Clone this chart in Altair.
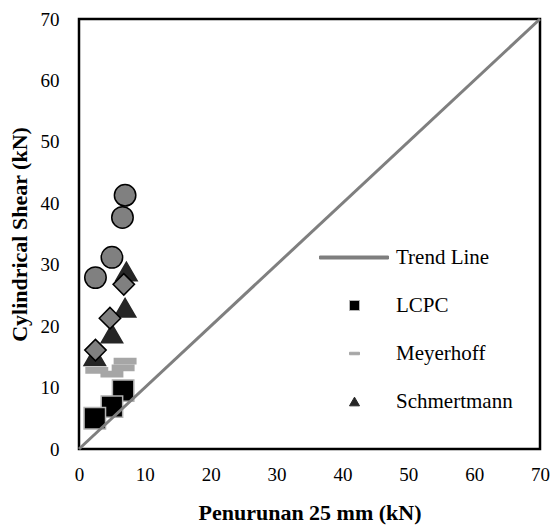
import altair as alt
import pandas as pd

# ---- data ----
lcpc_x = [6.7, 5.0, 2.4]
lcpc_y = [9.5, 6.9, 5.0]
meyer_x = [7.0, 6.7, 2.7, 5.0]
meyer_y = [14.3, 13.2, 12.8, 12.2]
circle_x = [7.0, 6.6, 5.0, 2.5]
circle_y = [41.3, 37.7, 31.2, 27.9]
schmert_x = [7.2, 7.0, 5.0, 2.4]
schmert_y = [28.9, 23.0, 18.8, 15.1]
diamond_x = [6.8, 4.7, 2.5]
diamond_y = [26.8, 21.3, 16.1]
trend_x = [0, 70]
trend_y = [0, 70]
tick_values = [0, 10, 20, 30, 40, 50, 60, 70]

series_names = ["Trend Line", "LCPC", "Meyerhoff", "Schmertmann", "Series 5", "Series 6"]
legend_names = ["Trend Line", "LCPC", "Meyerhoff", "Schmertmann"]

rows = []
for name, xs, ys in [
    ("Meyerhoff", meyer_x, meyer_y),
    ("LCPC", lcpc_x, lcpc_y),
    ("Series 5", circle_x, circle_y),
    ("Schmertmann", schmert_x, schmert_y),
    ("Series 6", diamond_x, diamond_y),
]:
    for xv, yv in zip(xs, ys):
        rows.append({"x": xv, "y": yv, "series": name})
points = pd.DataFrame(rows)
trend = pd.DataFrame({"x": trend_x, "y": trend_y})

shapes = [
    "M-7,-0.3H6.8V0.3H-7Z",
    "square",
    "M-1,-0.25H1V0.25H-1Z",
    "triangle-up",
    "circle",
    "diamond",
]
fills = ["#7f7f7f", "#000000", "#a6a6a6", "#262626", "#808080", "#808080"]
strokes = ["#7f7f7f", "#b3b3b3", "#a6a6a6", "#262626", "#000000", "#000000"]

FONT = "Liberation Serif, Times New Roman, Times, serif"

leg = alt.Legend(
    values=legend_names,
    title=None,
    orient="none",
    legendX=265,
    legendY=228,
    labelOffset=31,
    rowPadding=26,
    symbolSize=100,
    symbolStrokeWidth=1,
    labelFont=FONT,
    labelFontSize=21,
    labelColor="#000000",
    padding=0,
)

xscale = alt.Scale(domain=[0, 70], nice=False)
yscale = alt.Scale(domain=[0, 70], nice=False)

xaxis = alt.Axis(values=tick_values, title="Penurunan 25 mm (kN)", labelPadding=16,
                 titlePadding=18, labelFlush=False)
yaxis = alt.Axis(values=tick_values, title="Cylindrical Shear (kN)", labelPadding=20,
                 titlePadding=9, labelFlush=False)

pts = alt.Chart(points).mark_point(filled=True, size=460, strokeWidth=1.5, opacity=1).encode(
    x=alt.X("x:Q", scale=xscale, axis=xaxis),
    y=alt.Y("y:Q", scale=yscale, axis=yaxis),
    shape=alt.Shape("series:N", scale=alt.Scale(domain=series_names, range=shapes), legend=leg),
    fill=alt.Fill("series:N", scale=alt.Scale(domain=series_names, range=fills), legend=leg),
    stroke=alt.Stroke("series:N", scale=alt.Scale(domain=series_names, range=strokes), legend=leg),
)

line = alt.Chart(trend).mark_line(color="#7f7f7f", strokeWidth=3).encode(
    x=alt.X("x:Q", scale=xscale),
    y=alt.Y("y:Q", scale=yscale),
)

chart = alt.layer(pts, line).properties(
    width=461,
    height=430,
    autosize=alt.AutoSizeParams(type="none"),
    padding={"left": 79, "top": 19, "right": 12, "bottom": 79},
).configure_view(
    stroke="#000000", strokeWidth=2.5
).configure_axis(
    grid=False,
    ticks=False,
    domain=False,
    labelFont=FONT,
    labelFontSize=19,
    labelColor="#000000",
    titleFont=FONT,
    titleFontSize=22,
    titleFontWeight="bold",
    titleColor="#000000",
).configure_legend(
    symbolOpacity=1
)

chart.save("out.html", embed_options={"renderer": "svg", "actions": False})
